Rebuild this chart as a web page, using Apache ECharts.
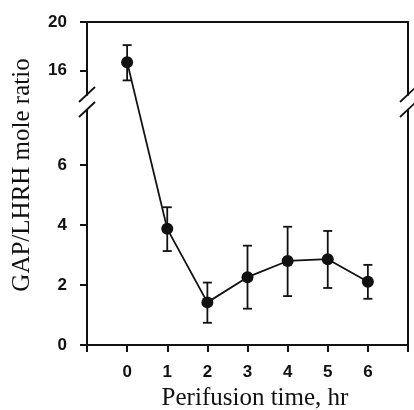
<!DOCTYPE html>
<html>
<head>
<meta charset="utf-8">
<script src="https://cdn.jsdelivr.net/npm/echarts@6/dist/echarts.min.js"></script>
<style>
  html, body { margin: 0; background: #fff; }
  #main { width: 414px; height: 410px; }
</style>
</head>
<body>
<div id="main"></div>
<script>
// data
var hours = [0, 1, 2, 3, 4, 5, 6];
var ratio = [16.7, 3.87, 1.42, 2.26, 2.8, 2.86, 2.11];
var errLow = [15.2, 3.13, 0.74, 1.21, 1.63, 1.9, 1.54];
var errHigh = [18.1, 4.59, 2.08, 3.31, 3.94, 3.8, 2.67];
var upperTicks = [16, 20];
var lowerTicks = [0, 2, 4, 6];
var xTicks = [0, 1, 2, 3, 4, 5, 6];
var breakAt = 10;

var myChart = echarts.init(document.getElementById('main'));

var upPts = [], lowPts = [], upErr = [], lowErr = [];
hours.forEach(function (h, i) {
  if (ratio[i] > breakAt) {
    upPts.push([h, ratio[i]]);
    upErr.push([h, errLow[i], errHigh[i]]);
  } else {
    lowPts.push([h, ratio[i]]);
    lowErr.push([h, errLow[i], errHigh[i]]);
  }
});

var ink = '#111';
var lineStyle = { color: ink, width: 2 };

function errorBar(params, api) {
  var x = api.value(0);
  var lo = api.coord([x, api.value(1)]);
  var hi = api.coord([x, api.value(2)]);
  var w = 4.5;
  var st = { stroke: ink, lineWidth: 1.8 };
  return {
    type: 'group',
    children: [
      { type: 'line', shape: { x1: lo[0], y1: lo[1], x2: hi[0], y2: hi[1] }, style: st },
      { type: 'line', shape: { x1: lo[0] - w, y1: lo[1], x2: lo[0] + w, y2: lo[1] }, style: st },
      { type: 'line', shape: { x1: hi[0] - w, y1: hi[1], x2: hi[0] + w, y2: hi[1] }, style: st }
    ]
  };
}

var numFont = { color: ink, fontFamily: 'Liberation Sans', fontWeight: 'bold', fontSize: 17 };

var option = {
  animation: false,
  backgroundColor: '#fff',
  grid: [
    { left: 87, width: 321, top: 22, height: 73 },
    { left: 87, width: 321, top: 110, height: 235 }
  ],
  xAxis: [
    {
      gridIndex: 0, type: 'value', min: -1, max: 7, position: 'top',
      axisLine: { onZero: false, lineStyle: lineStyle }, axisTick: { show: false },
      axisLabel: { show: false }, splitLine: { show: false }
    },
    {
      gridIndex: 1, type: 'value', min: -1, max: 7, interval: 1, position: 'bottom',
      axisLine: { onZero: false, lineStyle: lineStyle },
      axisTick: { length: 7, lineStyle: lineStyle },
      axisLabel: Object.assign({
        margin: 19,
        formatter: function (v) { return xTicks.indexOf(v) >= 0 ? String(v) : ''; }
      }, numFont),
      splitLine: { show: false }
    }
  ],
  yAxis: [
    {
      gridIndex: 0, type: 'value', min: 14, max: 20,
      axisLine: { show: true, onZero: false, lineStyle: lineStyle },
      axisTick: { show: true, length: 7, customValues: upperTicks, lineStyle: lineStyle },
      axisLabel: Object.assign({ margin: 20, customValues: upperTicks }, numFont),
      splitLine: { show: false }
    },
    {
      gridIndex: 0, type: 'value', min: 14, max: 20, position: 'right',
      axisLine: { show: true, onZero: false, lineStyle: lineStyle },
      axisTick: { show: false }, axisLabel: { show: false }, splitLine: { show: false }
    },
    {
      gridIndex: 1, type: 'value', min: 0, max: 7.83,
      axisLine: { show: true, onZero: false, lineStyle: lineStyle },
      axisTick: { show: true, length: 7, customValues: lowerTicks, lineStyle: lineStyle },
      axisLabel: Object.assign({ margin: 20, customValues: lowerTicks }, numFont),
      splitLine: { show: false }
    },
    {
      gridIndex: 1, type: 'value', min: 0, max: 7.83, position: 'right',
      axisLine: { show: true, onZero: false, lineStyle: lineStyle },
      axisTick: { show: false }, axisLabel: { show: false }, splitLine: { show: false }
    }
  ],
  series: [
    {
      type: 'custom', xAxisIndex: 0, yAxisIndex: 0, renderItem: errorBar,
      data: upErr, z: 2
    },
    {
      type: 'custom', xAxisIndex: 1, yAxisIndex: 2, renderItem: errorBar,
      data: lowErr, z: 2
    },
    {
      type: 'line', xAxisIndex: 0, yAxisIndex: 0, data: upPts,
      symbol: 'circle', symbolSize: 12, itemStyle: { color: ink },
      lineStyle: { color: ink, width: 1.8 }, z: 3
    },
    {
      type: 'line', xAxisIndex: 1, yAxisIndex: 2, data: lowPts,
      symbol: 'circle', symbolSize: 12, itemStyle: { color: ink },
      lineStyle: { color: ink, width: 1.8 }, z: 3
    }
  ]
};

myChart.setOption(option);

// segment that crosses the axis break, placed through both grids' scales
var lastUp = upPts[upPts.length - 1];
var firstLow = lowPts[0];
var pA = myChart.convertToPixel({ xAxisIndex: 0, yAxisIndex: 0 }, lastUp);
var pB = myChart.convertToPixel({ xAxisIndex: 1, yAxisIndex: 2 }, firstLow);

var slash = { stroke: ink, lineWidth: 1.8 };
function breakMarks(x) {
  return [
    { type: 'line', shape: { x1: x - 8, y1: 102, x2: x + 8, y2: 87 }, style: slash },
    { type: 'line', shape: { x1: x - 8, y1: 117, x2: x + 8, y2: 102 }, style: slash }
  ];
}

myChart.setOption({
  graphic: [
    { type: 'line', z: 1, shape: { x1: pA[0], y1: pA[1], x2: pB[0], y2: pB[1] },
      style: { stroke: ink, lineWidth: 1.8 } }
  ].concat(breakMarks(87), breakMarks(408), [
    { type: 'text', x: 22, y: 175, rotation: Math.PI / 2,
      style: { text: 'GAP/LHRH mole ratio', fill: ink, font: '25px "Liberation Serif"',
        align: 'center', verticalAlign: 'middle' } },
    { type: 'text', x: 255, y: 398,
      style: { text: 'Perifusion time, hr', fill: ink, font: '25px "Liberation Serif"',
        align: 'center', verticalAlign: 'middle' } }
  ])
});
</script>
</body>
</html>
